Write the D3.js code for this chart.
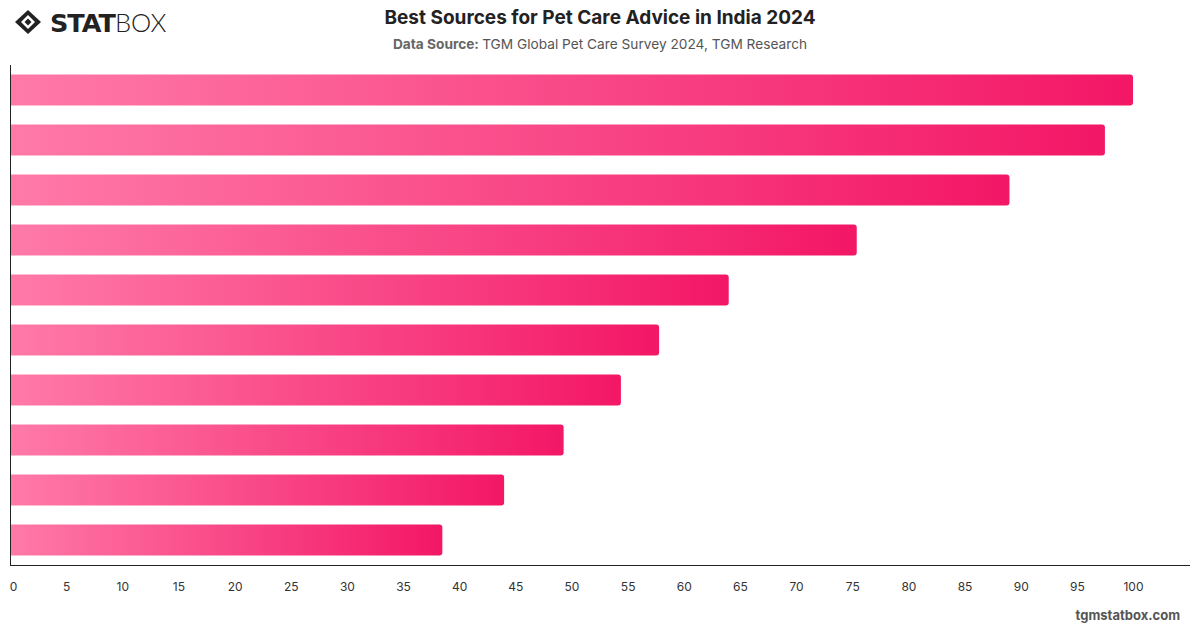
<!DOCTYPE html>
<html>
<head>
<meta charset="utf-8">
<script src="https://cdn.jsdelivr.net/npm/d3@7"></script>
<style>
  body { margin: 0; background: #fff; }
  svg { display: block; font-family: Inter, "Noto Sans", sans-serif; }
</style>
</head>
<body>
<svg id="chart" width="1200" height="628"></svg>
<script>
// DATA
const categories = ["Source 1", "Source 2", "Source 3", "Source 4", "Source 5",
  "Source 6", "Source 7", "Source 8", "Source 9", "Source 10"];
const values = [100, 97.5, 89.0, 75.4, 64.0, 57.8, 54.4, 49.3, 44.0, 38.5];
const xTicks = d3.range(0, 101, 5);

const width = 1200, height = 628;
const margin = { top: 65, right: 10, bottom: 63, left: 10 };

const svg = d3.select("#chart");

// gradient per bar (light pink -> hot pink)
const defs = svg.append("defs");
const grad = defs.append("linearGradient")
  .attr("id", "barGrad")
  .attr("x1", "0%").attr("x2", "100%")
  .attr("y1", "0%").attr("y2", "0%");
grad.append("stop").attr("offset", "0%").attr("stop-color", "#ff7aa8");
grad.append("stop").attr("offset", "100%").attr("stop-color", "#f31766");

const xScale = d3.scaleLinear().domain([0, 100]).range([margin.left, 1133]);
const yScale = d3.scaleBand()
  .domain(categories)
  .range([margin.top, height - margin.bottom])
  .paddingInner(0.38)
  .paddingOuter(0.19);

// BARS (rounded right end)
const r = 3;
svg.append("g")
  .selectAll("path")
  .data(categories.map((c, i) => ({ key: c, value: values[i] })))
  .join("path")
  .attr("fill", "url(#barGrad)")
  .attr("d", (d) => {
    const x0 = xScale(0), x1 = xScale(d.value);
    const y0 = yScale(d.key), h = yScale.bandwidth();
    return `M${x0},${y0}H${x1 - r}Q${x1},${y0} ${x1},${y0 + r}` +
      `V${y0 + h - r}Q${x1},${y0 + h} ${x1 - r},${y0 + h}H${x0}Z`;
  });

// AXES
const axisColor = "#222";
svg.append("line")
  .attr("x1", margin.left + 0.5).attr("x2", margin.left + 0.5)
  .attr("y1", margin.top).attr("y2", height - margin.bottom)
  .attr("stroke", axisColor).attr("stroke-width", 1);

const xl = svg.append("g")
  .attr("transform", `translate(0,${height - margin.bottom + 0.5})`)
  .call(d3.axisBottom(xScale).tickValues(xTicks).tickSize(0).tickPadding(17));
xl.select(".domain").attr("d", `M${margin.left},0H${width - margin.right}`)
  .attr("stroke", axisColor);
xl.selectAll("text")
  .attr("font-size", 12)
  .attr("fill", "#333")
  .attr("font-family", "Inter, 'Noto Sans', sans-serif")
  .attr("dx", (d) => (d === 0 ? 3 : 0));

// TITLES
svg.append("text")
  .attr("x", 600).attr("y", 24)
  .attr("text-anchor", "middle")
  .attr("font-size", 19).attr("font-weight", 700)
  .attr("fill", "#222")
  .text("Best Sources for Pet Care Advice in India 2024");

const sub = svg.append("text")
  .attr("x", 600).attr("y", 49)
  .attr("text-anchor", "middle")
  .attr("font-size", 13.7).attr("fill", "#555");
sub.append("tspan").attr("font-weight", 700).attr("fill", "#666").text("Data Source: ");
sub.append("tspan").text("TGM Global Pet Care Survey 2024, TGM Research");

// FOOTER
svg.append("text")
  .attr("x", 1180).attr("y", 620)
  .attr("text-anchor", "end")
  .attr("font-size", 13).attr("font-weight", 700)
  .attr("fill", "#555")
  .text("tgmstatbox.com");

// LOGO
const logo = svg.append("g").attr("transform", "translate(15,10)");
logo.append("path")
  .attr("d", "M13,0L26,12L13,24L0,12Z")
  .attr("fill", "#222");
logo.append("path")
  .attr("d", "M13,5L20,12L13,19L6,12Z")
  .attr("fill", "#fff");
logo.append("path")
  .attr("d", "M13,8.5L16.5,12L13,15.5L9.5,12Z")
  .attr("fill", "#222");
const lt = svg.append("text")
  .attr("x", 50).attr("y", 32)
  .attr("font-size", 25.5)
  .attr("fill", "#222")
  .attr("font-family", "'DejaVu Sans', sans-serif");
lt.append("tspan").attr("font-weight", 900).attr("letter-spacing", -1).text("STAT");
lt.append("tspan").attr("font-weight", 300).attr("font-family", "Lato, sans-serif").text("BOX");
</script>
</body>
</html>
